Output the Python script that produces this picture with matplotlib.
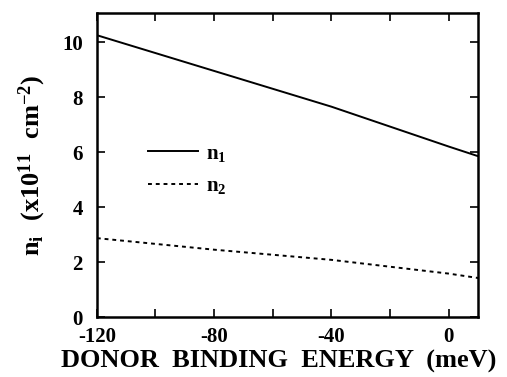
import matplotlib
matplotlib.use("Agg")
import matplotlib.pyplot as plt
from matplotlib.ticker import MultipleLocator

energy = [-120, -80, -40, 0, 10]
n1 = [10.25, 8.95, 7.65, 6.2, 5.85]
n2 = [2.87, 2.45, 2.08, 1.58, 1.42]

plt.rcParams['font.family'] = ['Liberation Serif', 'DejaVu Serif']
plt.rcParams['font.weight'] = 'bold'
plt.rcParams['axes.unicode_minus'] = False
plt.rcParams['mathtext.fontset'] = 'custom'
plt.rcParams['mathtext.rm'] = 'Liberation Serif:bold'
plt.rcParams['mathtext.bf'] = 'Liberation Serif:bold'
plt.rcParams['mathtext.it'] = 'Liberation Serif:bold'

fig = plt.figure(figsize=(5.07, 3.77), dpi=100)
ax = fig.add_axes([0.191, 0.159, 0.752, 0.806])

ax.plot(energy, n1, color='black', lw=1.4, label='$\\mathbf{n_1}$')
ax.plot(energy, n2, color='black', lw=1.4, ls=(0, (2, 2)), label='$\\mathbf{n_2}$')

ax.set_xlim(-120, 10)
ax.set_ylim(0, 11.05)
ax.xaxis.set_major_locator(MultipleLocator(40))
ax.xaxis.set_minor_locator(MultipleLocator(20))
ax.yaxis.set_major_locator(MultipleLocator(2))
ax.tick_params(which='both', direction='in', top=True, right=True,
               length=6, width=1.2, labelsize=15)
ax.tick_params(axis='y', pad=10)
ax.tick_params(axis='x', pad=7)
for lab in ax.get_xticklabels() + ax.get_yticklabels():
    lab.set_fontweight('bold')
for s in ax.spines.values():
    s.set_linewidth(1.8)

ax.set_xlabel('DONOR  BINDING  ENERGY  (meV)', fontsize=19, fontweight='bold',
              labelpad=2, x=0.478)
ax.set_ylabel('$\\mathbf{n_i\\ \\ (x10^{11}\\ \\ cm^{-2})}$', fontsize=19, labelpad=10)

leg = ax.legend(loc='upper left', bbox_to_anchor=(0.085, 0.632), frameon=False,
                fontsize=15, handlelength=2.4, labelspacing=0.6, handletextpad=0.4)

fig.savefig('out.png', dpi=100)
